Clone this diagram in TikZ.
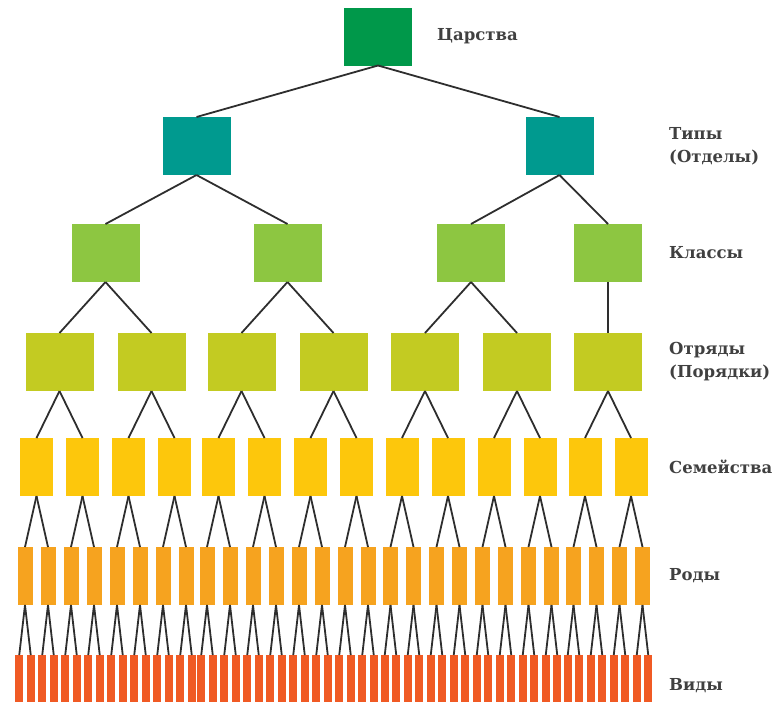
\documentclass[tikz,border=0pt]{standalone}
\usepackage{fontspec}
\setmainfont{DejaVu Serif}
\definecolor{kingdomgreen}{HTML}{00984A}
\definecolor{phylumteal}{HTML}{009A8F}
\definecolor{classgreen}{HTML}{8DC641}
\definecolor{orderolive}{HTML}{C3CB22}
\definecolor{familyyellow}{HTML}{FDC70C}
\definecolor{genusorange}{HTML}{F6A31F}
\definecolor{speciesred}{HTML}{F05A24}
\definecolor{linegray}{HTML}{2E2E2E}
\definecolor{ranktext}{HTML}{404040}
\tikzset{
    box/.style={rectangle, inner sep=0, outer sep=0, minimum width=68pt, minimum height=58pt},
    kingdom/.style={box, fill=kingdomgreen},
    phylum/.style={box, fill=phylumteal},
    class/.style={box, fill=classgreen},
    order/.style={box, fill=orderolive},
    family/.style={box, minimum width=33pt, fill=familyyellow},
    genus/.style={box, minimum width=15pt, fill=genusorange},
    species/.style={box, minimum width=8pt, minimum height=47pt, fill=speciesred},
    rank/.style={anchor=west, align=left, inner sep=0, text=ranktext, font=\bfseries\fontsize{16.5}{23}\selectfont}
}

\begin{document}
\begin{tikzpicture}[x=1pt, y=1pt,
    edge from parent/.style={draw=linegray, line width=1.8pt},
    edge from parent path={(\tikzparentnode.south) -- (\tikzchildnode.north)},
    level 1/.style={level distance=109.5pt, sibling distance=363pt},
    level 2/.style={level distance=107pt, sibling distance=182pt},
    level 3/.style={level distance=109pt, sibling distance=92pt},
    level 4/.style={level distance=105pt, sibling distance=46pt},
    level 5/.style={level distance=109pt, sibling distance=23pt},
    level 6/.style={level distance=102.5pt, sibling distance=11.5pt}]
    \useasboundingbox (0,0) rectangle (776,-702);

    % the tree
    \node[kingdom] (kingdom) at (378,-36.5) {}
        child {node[phylum] {}
            child {node[class] {}
                child foreach \o in {1,2} {node[order] {}
                    child foreach \f in {1,2} {node[family] {}
                        child foreach \g in {1,2} {node[genus] {}
                            child foreach \s in {1,2} {node[species] {}}}}}
            }
            child {node[class] {}
                child foreach \o in {1,2} {node[order] {}
                    child foreach \f in {1,2} {node[family] {}
                        child foreach \g in {1,2} {node[genus] {}
                            child foreach \s in {1,2} {node[species] {}}}}}
            }
        }
        child {node[phylum] {}
            child[sibling distance=137pt, xshift=-20pt] {node[class] {}
                child foreach \o in {1,2} {node[order] {}
                    child foreach \f in {1,2} {node[family] {}
                        child foreach \g in {1,2} {node[genus] {}
                            child foreach \s in {1,2} {node[species] {}}}}}
            }
            child[sibling distance=137pt, xshift=-20pt] {node[class] {}
                child {node[order] {}
                    child foreach \f in {1,2} {node[family] {}
                        child foreach \g in {1,2} {node[genus] {}
                            child foreach \s in {1,2} {node[species] {}}}}}
            }
        };

    % rank names
    \node[rank] (lkingdom) at (437,0 |- kingdom) {Царства};
    \node[rank] (lphylum) at (669,0 |- kingdom-2) {Типы\\(Отделы)};
    \node[rank] (lclass) at (669,0 |- kingdom-2-2) {Классы};
    \node[rank] (lorder) at (669,0 |- kingdom-2-2-1) {Отряды\\(Порядки)};
    \node[rank] (lfamily) at (669,0 |- kingdom-2-2-1-2) {Семейства};
    \node[rank] (lgenus) at (669,0 |- kingdom-2-2-1-2-2) {Роды};
    \node[rank, yshift=-7pt] (lspecies) at (669,0 |- kingdom-2-2-1-2-2-2) {Виды};
\end{tikzpicture}
\end{document}
